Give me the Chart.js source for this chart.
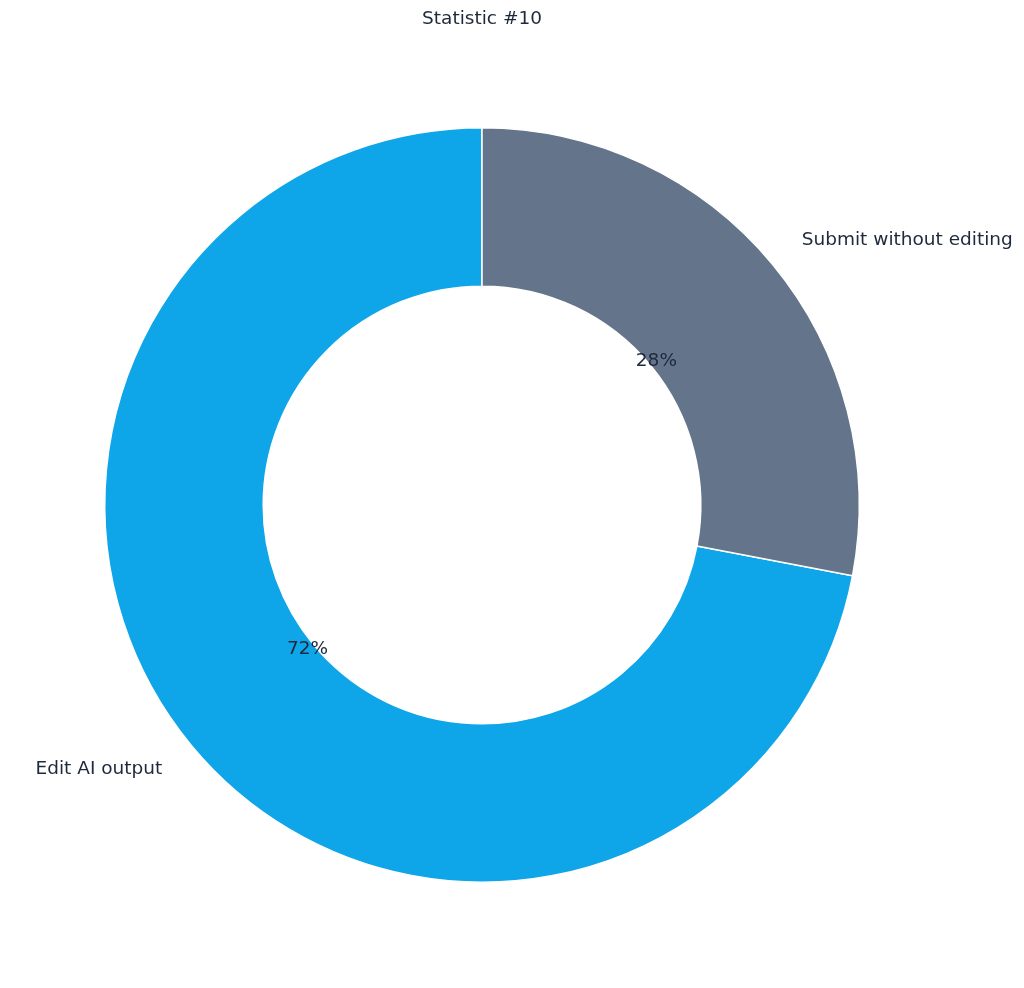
<!DOCTYPE html>
<html lang="en">
<head>
    <meta charset="UTF-8">
    <title>Statistic #10</title>
    <script src="https://cdn.jsdelivr.net/npm/chart.js"></script>
    <style>
        html, body { margin: 0; padding: 0; background: #ffffff; }
        #wrap { width: 1024px; height: 988px; position: relative; }
    </style>
</head>
<body>
    <div id="wrap">
        <canvas id="donut"></canvas>
    </div>
    <script>
        // data
        const titleText = 'Statistic #10';
        const labels = ['Edit AI output', 'Submit without editing'];
        const values = [72, 28];
        const colors = ['#0ea5e9', '#64748b'];

        const textColor = '#1e293b';
        const fontCss = '18.5px "DejaVu Sans"';

        const total = values.reduce((a, b) => a + b, 0);
        // first slice ends at the top, so the second one starts there going clockwise
        const startRotation = values[1] / total * 360;

        // labels outside the ring, percentages inside it, title on top
        const labelPlugin = {
            id: 'sliceLabels',
            afterDraw(chart) {
                const ctx = chart.ctx;
                const arcs = chart.getDatasetMeta(0).data;
                ctx.save();
                ctx.font = fontCss;
                ctx.fillStyle = textColor;
                ctx.textBaseline = 'middle';

                arcs.forEach((arc, i) => {
                    const p = arc.getProps(['x', 'y', 'startAngle', 'endAngle', 'outerRadius']);
                    const mid = (p.startAngle + p.endAngle) / 2;
                    const cx = Math.cos(mid), cy = Math.sin(mid);

                    ctx.textAlign = cx >= 0 ? 'left' : 'right';
                    ctx.fillText(labels[i], p.x + cx * p.outerRadius * 1.1, p.y + cy * p.outerRadius * 1.1);

                    ctx.textAlign = 'center';
                    const pct = Math.round(values[i] / total * 100) + '%';
                    ctx.fillText(pct, p.x + cx * p.outerRadius * 0.6, p.y + cy * p.outerRadius * 0.6);
                });

                if (arcs.length) {
                    ctx.textAlign = 'center';
                    ctx.fillText(titleText, arcs[0].x, 19);
                }
                ctx.restore();
            }
        };

        const ctx = document.getElementById('donut').getContext('2d');
        new Chart(ctx, {
            type: 'doughnut',
            data: {
                labels: labels,
                datasets: [{
                    data: values,
                    backgroundColor: colors,
                    borderColor: '#ffffff',
                    borderWidth: 1.5,
                    hoverOffset: 0
                }]
            },
            options: {
                responsive: true,
                maintainAspectRatio: false,
                animation: false,
                rotation: startRotation,
                cutout: '58%',
                layout: {
                    padding: { left: 104, right: 164, top: 127, bottom: 105 }
                },
                plugins: {
                    legend: { display: false },
                    title: { display: false },
                    tooltip: { enabled: false }
                }
            },
            plugins: [labelPlugin]
        });
    </script>
</body>
</html>
